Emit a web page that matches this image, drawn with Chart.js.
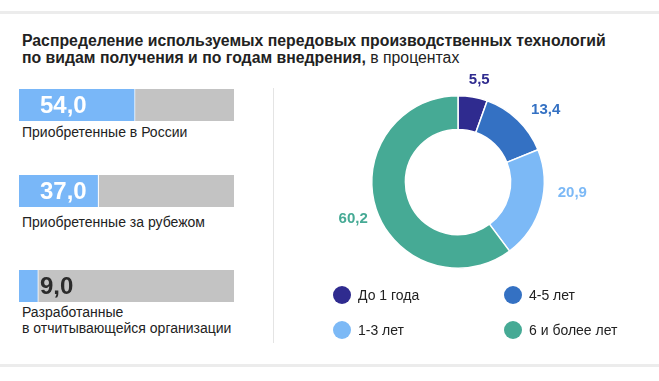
<!DOCTYPE html>
<html><head><meta charset="utf-8">
<script src="https://cdn.jsdelivr.net/npm/chart.js@4"></script>
<style>
html,body{margin:0;padding:0;background:#fff;}
body{width:659px;height:381px;position:relative;overflow:hidden;font-family:"Liberation Sans",Arial,sans-serif;color:#222;}
.abs{position:absolute;}
#title{left:22px;top:32px;font-size:15.8px;line-height:17px;font-weight:bold;color:#222;white-space:nowrap;}
#title span{font-weight:normal;}
.lbl{font-size:14px;line-height:16px;color:#222;white-space:nowrap;}
.hline{left:0;width:659px;height:3px;background:#ececec;}
.vline{left:273px;top:88px;width:1px;height:255px;background:#e4e4e4;}
.leg{font-size:14px;color:#222;white-space:nowrap;display:flex;align-items:center;}
.dot{width:18px;height:18px;border-radius:50%;margin-right:7px;}
</style></head>
<body>
<div class="abs hline" style="top:11px"></div>
<div class="abs hline" style="top:364px"></div>
<div class="abs vline"></div>
<div id="title" class="abs">Распределение используемых передовых производственных технологий<br>по видам получения и по годам внедрения, <span>в процентах</span></div>
<div id="bars"></div>
<div class="abs" style="left:280px;top:66px;width:379px;height:226px"><canvas id="donut" width="379" height="226"></canvas></div>
<div id="legend"></div>
<script>
// ---- data ----
const barCategories = ["Приобретенные в России", "Приобретенные за рубежом", "Разработанные\nв отчитывающейся организации"];
const barValues = [54.0, 37.0, 9.0];
const donutCategories = ["До 1 года", "4-5 лет", "1-3 лет", "6 и более лет"];
const donutValues = [5.5, 13.4, 20.9, 60.2];
const legendCategories = ["До 1 года", "4-5 лет", "1-3 лет", "6 и более лет"];

// ---- styles ----
const barBlue = "#79b7f8";
const barGray = "#c3c3c3";
const donutColors = ["#2f2b8f", "#3471c3", "#7cb9f6", "#46aa95"];
const fmt = v => v.toFixed(1).replace(".", ",");
const barTops = [89, 175, 270];
const labelTops = [124, 214, 304];

const barsDiv = document.getElementById("bars");
barCategories.forEach((cat, i) => {
  const wrap = document.createElement("div");
  wrap.className = "abs";
  wrap.style.cssText = `left:19px;top:${barTops[i]}px;width:215px;height:32px`;
  const cv = document.createElement("canvas");
  cv.width = 215; cv.height = 32;
  wrap.appendChild(cv);
  barsDiv.appendChild(wrap);
  const lbl = document.createElement("div");
  lbl.className = "abs lbl";
  lbl.style.cssText = `left:22px;top:${labelTops[i]}px`;
  lbl.innerHTML = cat.replace("\n", "<br>");
  barsDiv.appendChild(lbl);

  new Chart(cv, {
    type: "bar",
    data: {
      labels: [cat],
      datasets: [
        {data: [barValues[i]], backgroundColor: barBlue, borderColor: "#ffffff", borderWidth: {right: 1, left: 0, top: 0, bottom: 0}, borderSkipped: false},
        {data: [100 - barValues[i]], backgroundColor: barGray, borderWidth: 0}
      ]
    },
    options: {
      indexAxis: "y", responsive: false, animation: false,
      layout: {padding: 0},
      scales: {
        x: {display: false, stacked: true, min: 0, max: 100, grace: 0},
        y: {display: false, stacked: true}
      },
      datasets: {bar: {categoryPercentage: 1, barPercentage: 1}},
      plugins: {legend: {display: false}, tooltip: {enabled: false}}
    },
    plugins: [{
      id: "valLabel",
      afterDatasetsDraw(chart) {
        const ctx = chart.ctx;
        const el = chart.getDatasetMeta(0).data[0];
        const x0 = chart.chartArea.left + 21;
        ctx.save();
        ctx.font = "bold 24px 'Liberation Sans', Arial, sans-serif";
        ctx.textBaseline = "middle";
        ctx.textAlign = "left";
        ctx.fillStyle = (el.x - x0 > 40) ? "#ffffff" : "#2b2b2b";
        ctx.fillText(fmt(barValues[i]), x0, el.y + 1);
        ctx.restore();
      }
    }]
  });
});

// donut label offsets relative to arc mid-angle anchor
const labelShift = [[3, 3], [14, 4], [12, -18], [-4, 3]];
new Chart(document.getElementById("donut"), {
  type: "doughnut",
  data: {
    labels: donutCategories,
    datasets: [{data: donutValues, backgroundColor: donutColors, borderColor: "#ffffff", borderWidth: 1.5}]
  },
  options: {
    responsive: false, animation: false,
    cutout: "61%",
    layout: {padding: {left: 91, right: 114, top: 29, bottom: 23}},
    plugins: {legend: {display: false}, tooltip: {enabled: false}}
  },
  plugins: [{
    id: "donutLabels",
    afterDatasetsDraw(chart) {
      const ctx = chart.ctx;
      const meta = chart.getDatasetMeta(0);
      ctx.save();
      ctx.font = "bold 15px 'Liberation Sans', Arial, sans-serif";
      ctx.textAlign = "center";
      ctx.textBaseline = "middle";
      meta.data.forEach((arc, k) => {
        const mid = (arc.startAngle + arc.endAngle) / 2;
        const r = arc.outerRadius + 20;
        const x = arc.x + Math.cos(mid) * r + labelShift[k][0];
        const y = arc.y + Math.sin(mid) * r + labelShift[k][1];
        ctx.fillStyle = donutColors[k];
        ctx.fillText(fmt(donutValues[k]), x, y);
      });
      ctx.restore();
    }
  }]
});

// legend
const legPos = [[333, 286], [504, 286], [333, 321], [504, 321]];
const legDiv = document.getElementById("legend");
legendCategories.forEach((c, k) => {
  const d = document.createElement("div");
  d.className = "abs leg";
  d.style.cssText = `left:${legPos[k][0]}px;top:${legPos[k][1]}px;height:18px`;
  const ci = donutCategories.indexOf(c);
  d.innerHTML = `<div class="dot" style="background:${donutColors[ci]}"></div>${c}`;
  legDiv.appendChild(d);
});
</script>
</body></html>
